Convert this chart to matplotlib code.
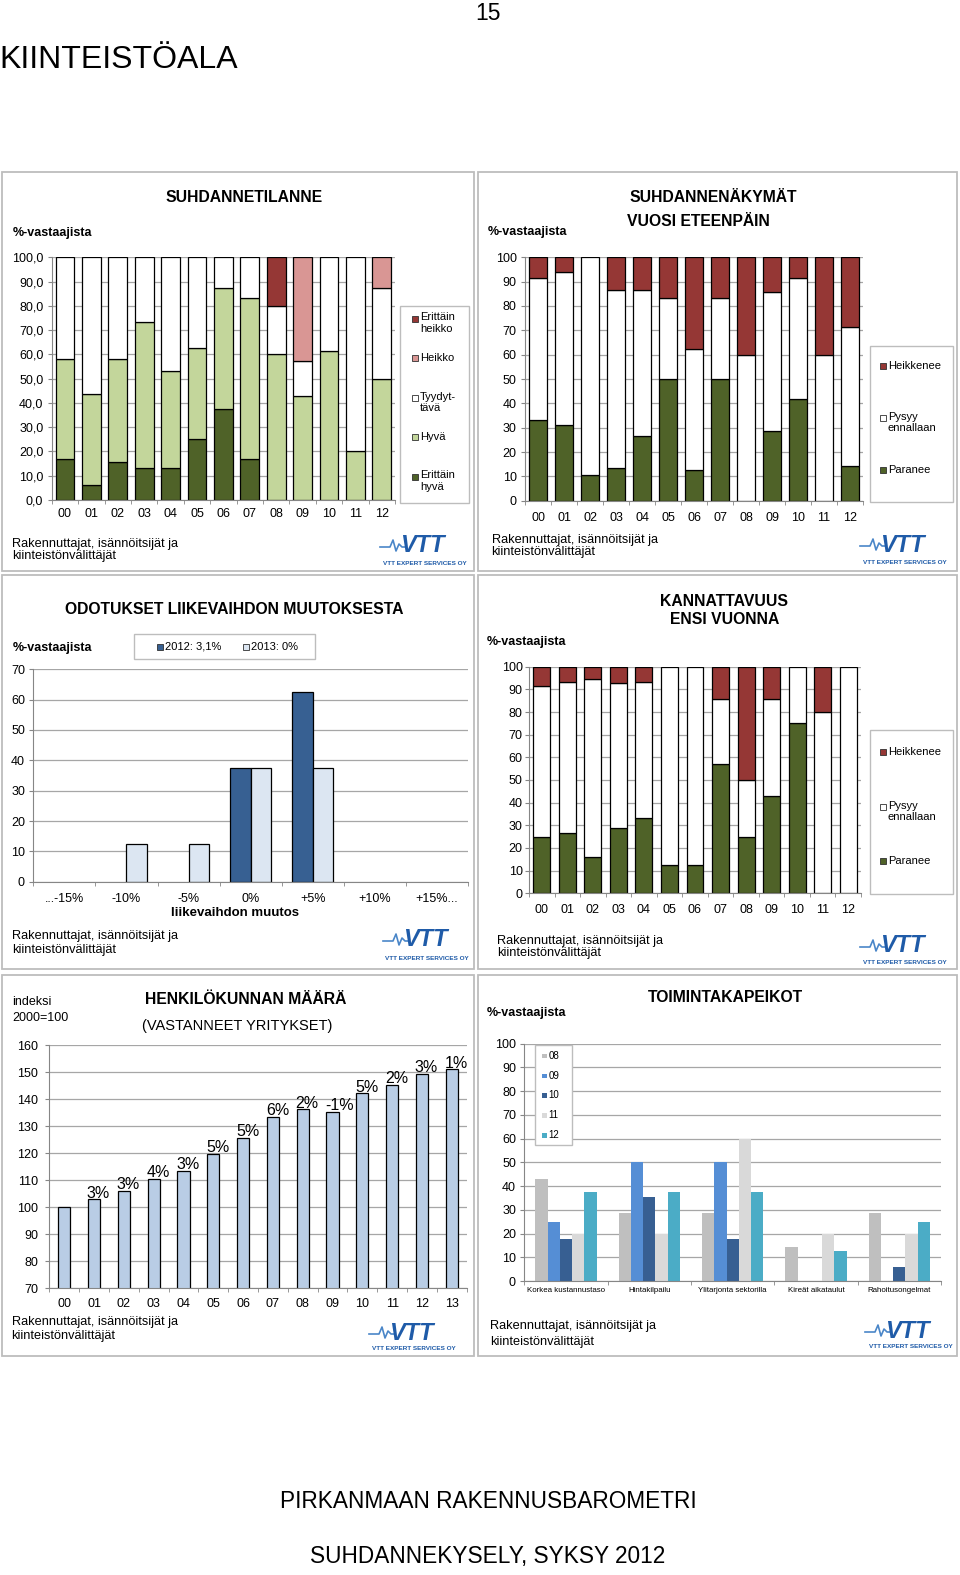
import matplotlib
matplotlib.use('Agg')
import matplotlib.pyplot as plt
from matplotlib.patches import Rectangle
from matplotlib.lines import Line2D
import numpy as np

plt.rcParams['font.family'] = ['Liberation Sans', 'DejaVu Sans']

# DATA

years_13 = ['00', '01', '02', '03', '04', '05', '06', '07', '08', '09', '10', '11', '12']
years_14 = years_13 + ['13']

# SUHDANNETILANNE (%-vastaajista)
tilanne_erittain_hyva = [16.7, 6.3, 15.8, 13.3, 13.3, 25.0, 37.5, 16.7, 0, 0, 0, 0, 0]
tilanne_hyva = [41.6, 37.5, 42.1, 60.0, 40.0, 37.5, 50.0, 66.6, 60.0, 42.9, 61.5, 20.0, 50.0]
tilanne_tyydyttava = [41.7, 56.2, 42.1, 26.7, 46.7, 37.5, 12.5, 16.7, 20.0, 14.2, 38.5, 80.0, 37.5]
tilanne_heikko = [0, 0, 0, 0, 0, 0, 0, 0, 0, 42.9, 0, 0, 12.5]
tilanne_erittain_heikko = [0, 0, 0, 0, 0, 0, 0, 0, 20.0, 0, 0, 0, 0]

# SUHDANNENÄKYMÄT VUOSI ETEENPÄIN
nakymat_paranee = [33.3, 31.3, 10.5, 13.3, 26.7, 50.0, 12.5, 50.0, 0, 28.6, 41.7, 0, 14.3]
nakymat_pysyy = [58.4, 62.5, 89.5, 73.4, 60.0, 33.3, 50.0, 33.3, 60.0, 57.1, 50.0, 60.0, 57.1]
nakymat_heikkenee = [8.3, 6.2, 0, 13.3, 13.3, 16.7, 37.5, 16.7, 40.0, 14.3, 8.3, 40.0, 28.6]

# ODOTUKSET LIIKEVAIHDON MUUTOKSESTA
muutos_luokat = ['...-15%', '-10%', '-5%', '0%', '+5%', '+10%', '+15%...']
muutos_2012 = [0, 0, 0, 37.5, 62.5, 0, 0]
muutos_2013 = [0, 12.5, 12.5, 37.5, 37.5, 0, 0]

# KANNATTAVUUS ENSI VUONNA
kannatt_paranee = [25.0, 26.7, 15.8, 28.6, 33.3, 12.5, 12.5, 57.1, 25.0, 42.9, 75.0, 0, 0]
kannatt_pysyy = [66.7, 66.6, 78.9, 64.3, 60.0, 87.5, 87.5, 28.6, 25.0, 42.8, 25.0, 80.0, 100.0]
kannatt_heikkenee = [8.3, 6.7, 5.3, 7.1, 6.7, 0, 0, 14.3, 50.0, 14.3, 0, 20.0, 0]

# HENKILÖKUNNAN MÄÄRÄ (indeksi 2000=100)
henk_indeksi = [100.0, 102.9, 106.1, 110.4, 113.5, 119.7, 125.7, 133.5, 136.2, 135.3, 142.1, 145.2, 149.3, 151.0]
henk_muutos = ['', '3%', '3%', '4%', '3%', '5%', '5%', '6%', '2%', '-1%', '5%', '2%', '3%', '1%']

# TOIMINTAKAPEIKOT
kapeikot = ['Korkea kustannustaso', 'Hintakilpailu', 'Ylitarjonta sektorilla',
            'Kireät aikataulut', 'Rahoitusongelmat']
kapeikko_vuodet = ['08', '09', '10', '11', '12']
kapeikko_arvot = [
    [42.9, 28.6, 28.6, 14.3, 28.6],   # 08
    [25.0, 50.0, 50.0, 0, 0],         # 09
    [17.6, 35.3, 17.6, 0, 5.9],       # 10
    [20.0, 20.0, 60.0, 20.0, 20.0],   # 11
    [37.5, 37.5, 37.5, 12.5, 25.0],   # 12
]

# VÄRIT

C_EH = '#4f6228'
C_HYVA = '#c3d69b'
C_TYYD = '#ffffff'
C_HEIKKO = '#d99694'
C_EHEIKKO = '#953735'
C_2012 = '#376092'
C_2013 = '#dce6f2'
C_HENK = '#b9cde5'
C_KAP = ['#bfbfbf', '#558ed5', '#375f92', '#d9d9d9', '#4bacc6']
GRID = '#a6a6a6'
SPINE = '#868686'
BORDER = '#bdbdbd'
VTT_BLUE = '#1f5ba8'

W, H = 960, 1575
fig = plt.figure(figsize=(W / 100, H / 100), dpi=100)
fig.patch.set_facecolor('white')


def fx(x):
    return x / W


def fy(y):
    return 1 - y / H


def add_ax(l, t, r, b):
    return fig.add_axes([fx(l), fy(b), (r - l) / W, (b - t) / H])


def txt(x, y, s, **kw):
    kw.setdefault('va', 'center')
    return fig.text(fx(x), fy(y), s, **kw)


def rect(l, t, r, b, **kw):
    p = Rectangle((fx(l), fy(b)), (r - l) / W, (b - t) / H, transform=fig.transFigure, **kw)
    fig.patches.append(p)
    return p


def style_ax(ax, ncat, ymin, ymax, ystep, labels, xfs=9, xpad=6, ypad=3, yfmt='{:.0f}', yfs=9):
    ax.set_xlim(-0.5, ncat - 0.5)
    ax.set_ylim(ymin, ymax)
    yt = np.arange(ymin, ymax + 0.01, ystep)
    ax.set_yticks(yt)
    ax.set_yticklabels([yfmt.format(v).replace('.', ',') for v in yt])
    ax.yaxis.grid(True, color=GRID, lw=0.9)
    ax.set_axisbelow(True)
    for s in ['top', 'right']:
        ax.spines[s].set_visible(False)
    ax.spines['left'].set_color(SPINE)
    ax.spines['bottom'].set_color(SPINE)
    ax.set_xticks(range(ncat))
    ax.set_xticklabels(labels, fontsize=xfs)
    ax.set_xticks(np.arange(-0.5, ncat), minor=True)
    ax.tick_params(axis='x', which='major', length=0, pad=xpad)
    ax.tick_params(axis='x', which='minor', length=3, color=SPINE)
    ax.tick_params(axis='y', length=3, color=SPINE, labelsize=yfs, pad=ypad)
    ax.patch.set_alpha(0)


def stacked(ax, series, colors, width):
    x = np.arange(len(series[0]))
    bottom = np.zeros(len(x))
    for vals, c in zip(series, colors):
        v = np.array(vals, dtype=float)
        m = v > 0
        ax.bar(x[m], v[m], width, bottom=bottom[m], color=c, edgecolor='black', lw=0.9)
        bottom += v


def footer(x, y, gap):
    txt(x, y, 'Rakennuttajat, isännöitsijät ja', fontsize=9.2)
    txt(x, y + gap, 'kiinteistönvälittäjät', fontsize=9.2)


def vtt_logo(cx, cy, sx, sy):
    txt(cx, cy, 'VTT', fontsize=17, fontweight='bold', style='italic', color=VTT_BLUE, ha='center')
    # pieni aaltoviiva logon vasemmalla puolella
    wave = [(-42, 1), (-32, 1), (-29, -6), (-26, 5), (-23, -2), (-20, 1), (-16, 1)]
    fig.lines.append(Line2D([fx(cx + dx) for dx, dy in wave], [fy(cy + dy) for dx, dy in wave],
                            transform=fig.transFigure, color='#4a86c8', lw=1.2))
    txt(sx, sy, 'VTT EXPERT SERVICES OY', fontsize=4.6, fontweight='bold', color=VTT_BLUE, ha='center')


def legend_entry(x, y, color, label, fs=8, size=6, edge='#303030', two_lines=False):
    h = size / 2
    rect(x - h, y - h, x + h, y + h, facecolor=color, edgecolor=edge if edge else 'none',
         lw=0.6, zorder=6)
    if two_lines:
        txt(x + h + 2, y - 6.5, label, fontsize=fs, va='top', linespacing=1.15, zorder=7)
    else:
        txt(x + h + 2, y, label, fontsize=fs, zorder=7)


# SIVUN TEKSTIT

txt(488, 13, '15', fontsize=16.5, ha='center')
txt(-1, 60, 'KIINTEISTÖALA', fontsize=23)
txt(488, 1502, 'PIRKANMAAN RAKENNUSBAROMETRI', fontsize=16.3, ha='center')
txt(488, 1556, 'SUHDANNEKYSELY, SYKSY 2012', fontsize=16.3, ha='center')

# PANEELIEN REUNAT
for l, t, r, b in [(2, 172, 474, 571), (478, 172, 957, 571),
                   (2, 575, 474, 969), (478, 575, 957, 969),
                   (2, 975, 474, 1356), (478, 975, 957, 1356)]:
    rect(l, t, r, b, fill=False, edgecolor=BORDER, lw=1.3, zorder=1)

# 1) SUHDANNETILANNE

ax1 = add_ax(51.7, 257.3, 395, 500)
stacked(ax1, [tilanne_erittain_hyva, tilanne_hyva, tilanne_tyydyttava, tilanne_heikko, tilanne_erittain_heikko],
        [C_EH, C_HYVA, C_TYYD, C_HEIKKO, C_EHEIKKO], 0.71)
style_ax(ax1, 13, 0, 100, 10, years_13, xpad=5.5, yfmt='{:.1f}')
txt(244, 198, 'SUHDANNETILANNE', fontsize=11.3, fontweight='bold', ha='center')
txt(13, 233, '%-vastaajista', fontsize=9, fontweight='bold')
rect(400, 306, 469, 503, facecolor='white', edgecolor=BORDER, lw=1, zorder=5)
legend_entry(415, 319, C_EHEIKKO, 'Erittäin\nheikko', two_lines=True)
legend_entry(415, 358, C_HEIKKO, 'Heikko')
legend_entry(415, 398, C_TYYD, 'Tyydyt-\ntävä', two_lines=True)
legend_entry(415, 437, C_HYVA, 'Hyvä')
legend_entry(415, 477, C_EH, 'Erittäin\nhyvä', two_lines=True)
footer(12.5, 544, 12)
vtt_logo(422, 546, 425, 564)

# 2) SUHDANNENÄKYMÄT

ax2 = add_ax(525, 257.3, 863, 500.7)
stacked(ax2, [nakymat_paranee, nakymat_pysyy, nakymat_heikkenee], [C_EH, C_TYYD, C_EHEIKKO], 0.68)
style_ax(ax2, 13, 0, 100, 10, years_13, xpad=8)
txt(713, 198, 'SUHDANNENÄKYMÄT', fontsize=11.3, fontweight='bold', ha='center')
txt(698, 221, 'VUOSI ETEENPÄIN', fontsize=11.3, fontweight='bold', ha='center')
txt(488, 232, '%-vastaajista', fontsize=9, fontweight='bold')
rect(870, 346, 953, 502, facecolor='white', edgecolor=BORDER, lw=1, zorder=5)
legend_entry(883, 366, C_EHEIKKO, 'Heikkenee')
legend_entry(883, 418, C_TYYD, 'Pysyy\nennallaan', two_lines=True)
legend_entry(883, 470, C_EH, 'Paranee')
footer(491.5, 540, 12)
vtt_logo(902, 545, 905, 563)

# 3) ODOTUKSET LIIKEVAIHDON MUUTOKSESTA

ax3 = add_ax(33.3, 669.3, 468, 881.7)
xm = np.arange(len(muutos_luokat))
bw = 1 / 3
m12 = np.array(muutos_2012) > 0
m13 = np.array(muutos_2013) > 0
ax3.bar(xm[m12] - bw / 2, np.array(muutos_2012)[m12], bw, color=C_2012, edgecolor='black', lw=0.9)
ax3.bar(xm[m13] + bw / 2, np.array(muutos_2013)[m13], bw, color=C_2013, edgecolor='black', lw=0.9)
style_ax(ax3, 7, 0, 70, 10, muutos_luokat, xpad=8)
txt(234, 610, 'ODOTUKSET LIIKEVAIHDON MUUTOKSESTA', fontsize=11.3, fontweight='bold', ha='center')
txt(235, 913, 'liikevaihdon muutos', fontsize=9.5, fontweight='bold', ha='center')
txt(13, 648, '%-vastaajista', fontsize=9, fontweight='bold')
rect(134, 634, 315, 659, facecolor='white', edgecolor=BORDER, lw=1, zorder=5)
legend_entry(160, 647, C_2012, '2012: 3,1%')
legend_entry(246, 647, C_2013, '2013: 0%')
footer(12.5, 936.5, 14)
vtt_logo(425, 940, 427, 958)

# 4) KANNATTAVUUS ENSI VUONNA

ax4 = add_ax(529, 666.7, 861, 893.3)
stacked(ax4, [kannatt_paranee, kannatt_pysyy, kannatt_heikkenee], [C_EH, C_TYYD, C_EHEIKKO], 0.66)
style_ax(ax4, 13, 0, 100, 10, years_13, xpad=8, ypad=1.5)
txt(724, 601, 'KANNATTAVUUS', fontsize=11.3, fontweight='bold', ha='center')
txt(725, 619, 'ENSI VUONNA', fontsize=11.3, fontweight='bold', ha='center')
txt(487, 642, '%-vastaajista', fontsize=9, fontweight='bold')
rect(870, 730, 953, 894, facecolor='white', edgecolor=BORDER, lw=1, zorder=5)
legend_entry(883, 752, C_EHEIKKO, 'Heikkenee')
legend_entry(883, 807, C_TYYD, 'Pysyy\nennallaan', two_lines=True)
legend_entry(883, 861, C_EH, 'Paranee')
footer(497.5, 940.5, 12.5)
vtt_logo(902, 946, 905, 963)

# 5) HENKILÖKUNNAN MÄÄRÄ

ax5 = add_ax(49.3, 1045, 466.7, 1288.3)
xh = np.arange(len(henk_indeksi))
ax5.bar(xh, henk_indeksi, 0.41, color=C_HENK, edgecolor='black', lw=0.9)
style_ax(ax5, 14, 70, 160, 10, years_14, xpad=7, ypad=5)
for xi, v, lab in zip(xh, henk_indeksi, henk_muutos):
    ax5.text(xi - 0.24, v + 0.6, lab, fontsize=11.5, ha='left', va='baseline')
txt(246, 1000, 'HENKILÖKUNNAN MÄÄRÄ', fontsize=11.3, fontweight='bold', ha='center')
txt(237, 1026, '(VASTANNEET YRITYKSET)', fontsize=10.5, ha='center')
txt(12, 1002, 'indeksi', fontsize=9)
txt(12, 1017.5, '2000=100', fontsize=9)
footer(11.5, 1322.5, 14)
vtt_logo(411, 1333, 414, 1349)

# 6) TOIMINTAKAPEIKOT

ax6 = add_ax(524.3, 1043.7, 941, 1281)
xk = np.arange(len(kapeikot))
kw = 0.147
for i, (vals, c) in enumerate(zip(kapeikko_arvot, C_KAP)):
    v = np.array(vals)
    m = v > 0
    ax6.bar(xk[m] + (i - 2) * kw, v[m], kw, color=c, edgecolor='none')
style_ax(ax6, 5, 0, 100, 10, kapeikot, xfs=5.7, xpad=4)
txt(725, 997, 'TOIMINTAKAPEIKOT', fontsize=11.3, fontweight='bold', ha='center')
txt(487, 1013, '%-vastaajista', fontsize=9, fontweight='bold')
rect(535, 1045, 572, 1145, facecolor='white', edgecolor=BORDER, lw=1, zorder=5)
for (yy, lab, c) in zip([1056, 1076, 1095.5, 1115.5, 1135.5], kapeikko_vuodet, C_KAP):
    legend_entry(544.5, yy, c, lab, fs=7, size=4.5, edge=None)
footer(490, 1326.5, 15)
vtt_logo(907, 1331, 911, 1346)

fig.savefig('out.png', dpi=100, facecolor='white')
